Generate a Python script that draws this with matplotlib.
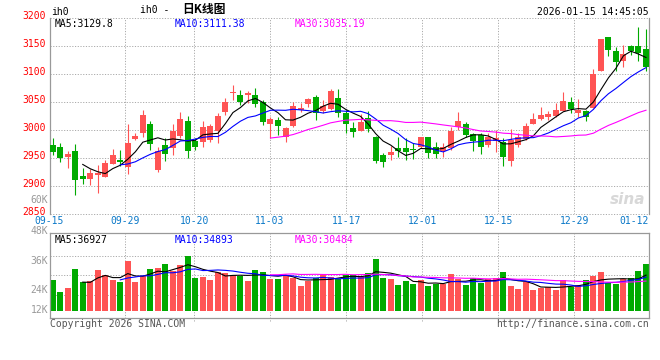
import numpy as np
import matplotlib
matplotlib.use("Agg")
import matplotlib.pyplot as plt
from matplotlib.transforms import blended_transform_factory, ScaledTranslation

# ---------------- data ----------------
opens = [2973.2, 2969.6, 2952.3, 2962.5, 2918.4, 2912.5, 2920.2, 2916.6, 2939.8, 2946.4,
         2934.5, 2984.4, 2995.2, 3010.7, 2928.6, 2973.2, 2968.4, 2989.3, 3016.6, 2980.4,
         2979.1, 2981.6, 2998.8, 3032.7, 3065.5, 3063.0, 3061.9, 3063.0, 3049.5, 3010.7,
         3017.9, 2987.0, 3007.7, 3035.7, 3045.9, 3058.4, 3034.5, 3037.5, 3056.6, 3030.9,
         3003.0, 2998.8, 3022.0, 2987.0, 2955.4, 2955.4, 2967.3, 2968.4, 2965.5, 2970.2,
         2987.0, 2969.1, 2962.0, 2967.3, 3004.8, 3010.7, 2992.9, 2991.1, 2973.2, 2980.9,
         2979.1, 2945.2, 2973.2, 2983.4, 3010.7, 3019.6, 3023.8, 3025.0, 3034.5, 3050.0,
         3030.9, 3033.4, 3039.3, 3105.9, 3166.1, 3141.6, 3122.7, 3150.0, 3150.0, 3144.6]
closes = [2961.2, 2950.5, 2957.1, 2910.7, 2913.0, 2922.7, 2923.8, 2940.5, 2955.4, 2942.9,
          2976.8, 2989.3, 3026.8, 2975.0, 2962.5, 2957.1, 2998.8, 3019.6, 2963.0, 2970.2,
          3005.4, 3006.6, 3025.0, 3050.5, 3068.3, 3050.0, 3066.6, 3045.9, 3014.8, 3019.1,
          3007.7, 3003.6, 3043.4, 3039.8, 3055.4, 3030.9, 3042.9, 3069.6, 3030.9, 3010.2,
          2997.0, 3013.7, 3001.8, 2945.2, 2943.4, 2961.2, 2963.0, 2960.2, 2963.7, 2987.0,
          2958.4, 2957.7, 2969.0, 2998.7, 3016.6, 2991.1, 2980.9, 2970.2, 2988.0, 2985.2,
          2951.2, 2982.1, 2988.0, 3007.1, 3019.6, 3026.8, 3028.6, 3035.7, 3052.3, 3038.0,
          3036.3, 3023.8, 3100.0, 3162.5, 3143.4, 3121.4, 3135.7, 3140.5, 3137.0, 3113.0]
highs = [2986.2, 2976.8, 2962.5, 2975.0, 2931.6, 2929.8, 2937.5, 2946.4, 2966.1, 2964.3,
         3010.7, 2995.2, 3035.7, 3016.6, 2970.2, 2986.2, 3010.7, 3032.7, 3025.0, 2985.2,
         3016.6, 3010.2, 3029.8, 3057.1, 3080.4, 3072.0, 3069.6, 3075.0, 3053.6, 3023.8,
         3023.8, 3005.9, 3049.5, 3047.7, 3057.0, 3062.5, 3053.6, 3073.2, 3073.2, 3035.7,
         3014.8, 3028.6, 3034.5, 2989.0, 2958.4, 2971.4, 2988.0, 2985.2, 2976.2, 2988.0,
         2987.5, 2979.1, 2977.0, 3005.9, 3032.1, 3014.8, 2995.2, 2994.1, 2994.1, 3000.0,
         2985.2, 3001.2, 2994.1, 3012.0, 3029.8, 3040.5, 3034.5, 3047.7, 3068.4, 3059.5,
         3055.4, 3035.7, 3109.5, 3162.5, 3166.1, 3148.8, 3152.3, 3152.3, 3183.4, 3179.8]
lows = [2955.3, 2943.4, 2932.7, 2884.5, 2904.1, 2902.3, 2888.0, 2915.5, 2939.3, 2935.7,
        2921.4, 2982.1, 2987.0, 2964.3, 2924.5, 2944.6, 2955.4, 2986.2, 2950.5, 2964.3,
        2970.2, 2979.1, 2976.2, 3026.8, 3053.6, 3044.6, 3047.7, 3040.5, 3008.9, 2985.2,
        2991.1, 2979.1, 3005.9, 3032.7, 3041.6, 3017.9, 3029.8, 3035.7, 3023.8, 2995.2,
        2987.0, 2998.8, 2997.0, 2940.5, 2934.5, 2946.4, 2952.3, 2946.4, 2947.7, 2968.4,
        2950.0, 2949.5, 2952.3, 2964.3, 2999.9, 2988.1, 2963.0, 2957.1, 2970.2, 2961.3,
        2936.2, 2935.7, 2969.1, 2982.1, 3010.7, 3017.9, 3017.9, 3023.8, 3034.5, 3030.4,
        3023.2, 3016.1, 3039.3, 3105.0, 3131.6, 3104.8, 3112.0, 3134.5, 3122.7, 3104.8]
volumes = [31800, 19500, 23900, 43100, 29800, 30800, 42100, 37000, 31800, 29800,
           51400, 29800, 35900, 43100, 44200, 48300, 41100, 47200, 56800, 33900,
           34900, 31800, 40100, 39000, 37000, 35900, 30800, 42100, 40100, 32900,
           32900, 35900, 33900, 25700, 30800, 33900, 37000, 34900, 32400, 37000,
           37000, 35200, 39000, 53400, 33900, 32900, 26700, 30800, 27700, 31800,
           25700, 27700, 27700, 38000, 32900, 26700, 33900, 29100, 32900, 33900,
           40100, 25700, 22600, 29800, 21600, 23600, 24600, 21600, 31800, 25000,
           26700, 31800, 35900, 40100, 29100, 28000, 32900, 33900, 41100, 48300]

date_labels = ["09-15", "09-29", "10-20", "11-03", "11-17", "12-01", "12-15", "12-29", "01-12"]
date_pos = [-0.49, 9.67, 18.85, 28.93, 39.09, 49.21, 59.33, 69.45, 77.4]
price_ticks = [2850, 2900, 2950, 3000, 3050, 3100, 3150, 3200]
vol_grid = [56500, 37000, 16400]
vol_labels = ["60K", "48K", "36K", "24K", "12K"]
vol_label_y = [200, 231, 261, 290, 310]   # pixel rows of the (offset) labels

ma_price_text = ["MA5:3129.8", "MA10:3111.38", "MA30:3035.19"]
ma_vol_text = ["MA5:36927", "MA10:34893", "MA30:30484"]

# ---------------- style ----------------
W, H = 660, 360
RED, GREEN = "#ff5454", "#00aa00"
MA_COLORS = ["#000000", "#0000ff", "#ff00ff"]
GRID = "#aaaaaa"
BORDER = "#999999"
MONO = "DejaVu Sans Mono"
FS = 7

fig = plt.figure(figsize=(W / 100, H / 100), dpi=100)
fig.patch.set_facecolor("white")


def rect(l, t, r, b):
    return [l / W, 1 - b / H, (r - l) / W, (b - t) / H]


def ftext(x, y, s, **kw):
    kw.setdefault("family", MONO)
    kw.setdefault("fontsize", FS)
    kw.setdefault("va", "center")
    fig.text(x / W, 1 - y / H, s, **kw)


o = np.array(opens); c = np.array(closes)
h = np.array(highs); l = np.array(lows)
v = np.array(volumes, dtype=float)
x = np.arange(len(o))
up = c >= o
cols = np.where(up, RED, GREEN)

XL = (-0.36, 79.40)
dotted = (0, (1.2, 1.6))

# ---------------- price panel ----------------
ax = fig.add_axes(rect(50, 18, 649, 214))
ax.set_xlim(*XL)
ax.set_ylim(2850, 3200)
for s in ["top", "bottom"]:
    ax.spines[s].set_visible(False)
for s in ["left", "right"]:
    ax.spines[s].set_color(BORDER)
    ax.spines[s].set_linewidth(0.9)
for p in price_ticks:
    ax.axhline(p, color=GRID, lw=0.7, ls=dotted, clip_on=False, zorder=0)
for p in date_pos[1:-1]:
    ax.axvline(p, color=GRID, lw=0.7, ls=dotted, zorder=0)
ax.set_xticks([])
ax.set_yticks(price_ticks)
ax.set_yticklabels([str(t) for t in price_ticks], color="red", family=MONO, fontsize=FS)
ax.tick_params(axis="y", length=0, pad=3)
up_shift = ScaledTranslation(0, 2.5 / 100, fig.dpi_scale_trans)
for lab in ax.get_yticklabels():
    lab.set_transform(lab.get_transform() + up_shift)

ax.vlines(x, l, h, colors=cols, lw=0.8, zorder=2)
body_h = np.maximum(np.abs(c - o), 1.4)
ax.bar(x, body_h, bottom=np.minimum(o, c), width=0.8, color=cols, linewidth=0, zorder=3)

for n, col in zip([5, 10, 30], MA_COLORS):
    ma = np.convolve(c, np.ones(n) / n, mode="valid")
    ax.plot(x[n - 1:], ma, color=col, lw=0.8, zorder=4)

# date labels
tr = blended_transform_factory(ax.transData, ax.transAxes)
for p, s in zip(date_pos, date_labels):
    ax.text(p, -0.035, s, transform=tr, ha="center", va="center", color="#0a78c8",
            family=MONO, fontsize=FS, clip_on=False)

# watermark
ftext(628, 199, "sina", color="#d8d8d8", fontsize=11, ha="center",
      family="DejaVu Sans", fontweight="bold", style="italic")

# ---------------- volume panel ----------------
axv = fig.add_axes(rect(50, 233, 649, 318))
axv.set_xlim(*XL)
axv.set_ylim(-7190, 80100)
for s in axv.spines.values():
    s.set_color(BORDER)
    s.set_linewidth(0.9)
axv.set_xticks([]); axv.set_yticks([])
for g in vol_grid:
    axv.axhline(g, color=GRID, lw=0.7, ls=dotted, zorder=0)
for p in date_pos[1:-1]:
    axv.vlines(p, -10300, 80100, color=GRID, lw=0.7, ls=dotted, zorder=0, clip_on=False)
axv.bar(x, v, width=0.8, color=cols, linewidth=0, zorder=2)
for n, col in zip([5, 10, 30], MA_COLORS):
    ma = np.convolve(v, np.ones(n) / n, mode="valid")
    axv.plot(x[n - 1:], ma, color=col, lw=0.8, zorder=4)

# ---------------- texts ----------------
ftext(51, 12, "ih0", ha="left")
ftext(140, 10, "ih0 -", ha="left")
ftext(182, 10, "日K线图", ha="left", family="Noto Sans CJK SC", fontweight="bold", fontsize=8.5)
ftext(649, 12, "2026-01-15 14:45:05", ha="right")

for xx, s, col in zip([55, 175, 295], ma_price_text, MA_COLORS):
    ftext(xx, 24, s, ha="left", color=col)
for xx, s, col in zip([55, 175, 295], ma_vol_text, MA_COLORS):
    ftext(xx, 240, s, ha="left", color=col)

for s, yy in zip(vol_labels, vol_label_y):
    ftext(48, yy, s, ha="right", color="#999999")

ftext(50, 324, "Copyright 2026 SINA.COM", ha="left", color="#555555")
ftext(649, 324, "http://finance.sina.com.cn", ha="right", color="#555555")

fig.savefig("out.png", dpi=100, facecolor="white")
